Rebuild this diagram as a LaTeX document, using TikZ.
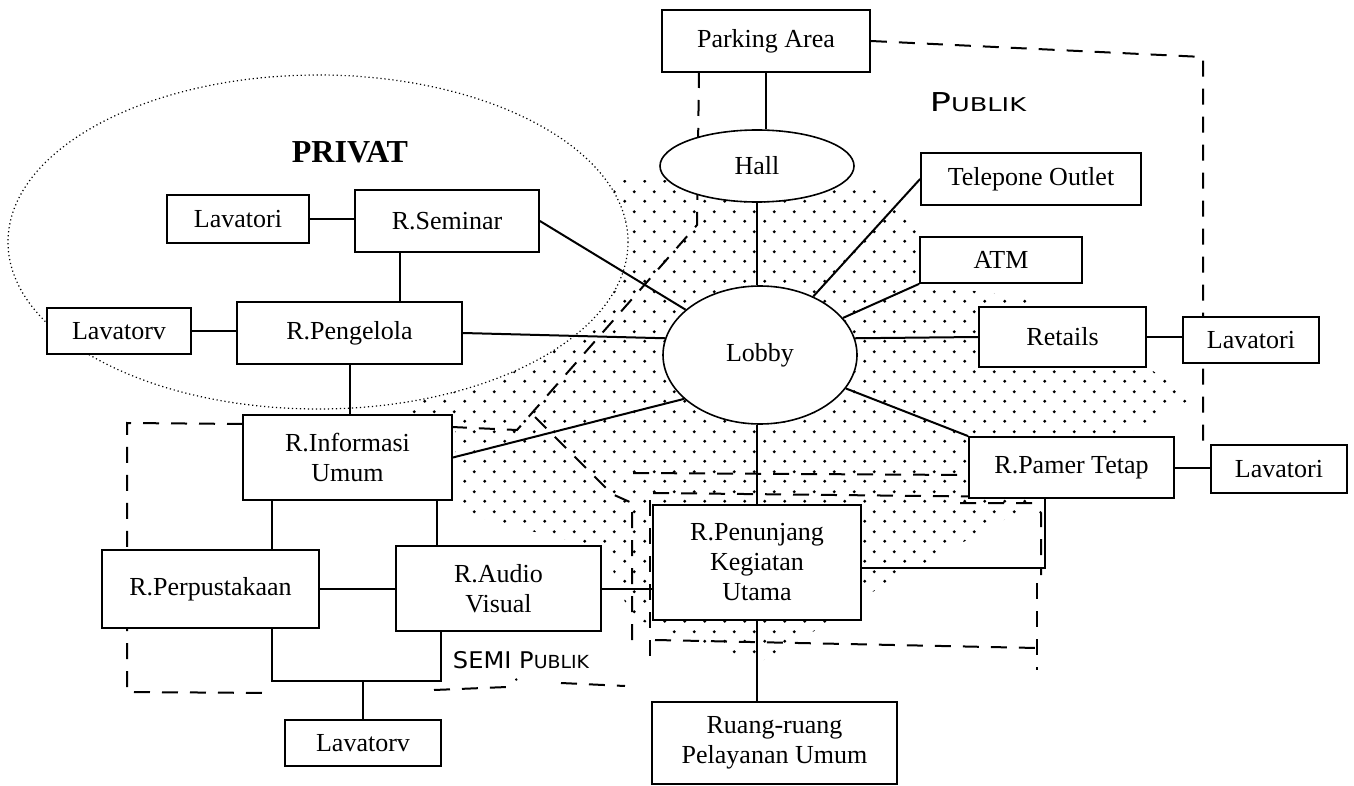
\documentclass[tikz,border=0pt]{standalone}
\usepackage{fontspec}
\setmainfont{Liberation Serif}
\newfontfamily\handfont{DejaVu Sans}
\usetikzlibrary{shapes.geometric,calc,patterns.meta}
\pgfdeclarelayer{bg}
\pgfdeclarelayer{mid}
\pgfsetlayers{bg,mid,main}

% fine staggered dot screen for the shared public area
\tikzdeclarepattern{
  name=stipple,
  type=uncolored,
  bounding box={(0pt,0pt) and (10pt,10pt)},
  tile size={(10pt,10pt)},
  code={
    \pgfpathcircle{\pgfqpoint{2.5pt}{2.5pt}}{0.85pt}
    \pgfpathcircle{\pgfqpoint{7.5pt}{7.5pt}}{0.85pt}
    \pgfusepath{fill}
  }
}

\tikzset{
  room/.style={draw, fill=white, line width=0.9pt, inner sep=1pt, align=center,
               font=\fontsize{13}{15}\selectfont},
  hub/.style={room, ellipse, line width=0.8pt},
  link/.style={line width=1pt},
  zone/.style={line width=1pt, dash pattern=on 8pt off 6pt},
  label/.style={inner sep=0pt},
}

\begin{document}
\begin{tikzpicture}[x=0.5pt,y=-0.5pt]
\useasboundingbox (0,0) rectangle (1354,786);

% ---------- rooms ----------
\node[room, minimum width=104pt, minimum height=31pt] (park) at (766,41) {Parking Area};
\node[hub, minimum width=97pt, minimum height=36pt] (hall) at (757,166) {Hall};
\node[room, minimum width=110pt, minimum height=26pt] (tel) at (1031,179) {Telepone Outlet};
\node[room, minimum width=81pt, minimum height=23pt] (atm) at (1001,260) {ATM};
\node[hub, minimum width=97pt, minimum height=69pt] (lobby) at (760,355) {Lobby};
\node[room, minimum width=83.5pt, minimum height=30pt] (ret) at (1062.5,337) {Retails};
\node[room, minimum width=68pt, minimum height=23pt] (lav3) at (1251,340) {Lavatori};
\node[room, minimum width=102.5pt, minimum height=30.5pt] (pam) at (1071.5,467.5) {R.Pamer Tetap};
\node[room, minimum width=68pt, minimum height=24pt] (lav4) at (1279,469) {Lavatori};
\node[room, minimum width=92pt, minimum height=31pt] (sem) at (447,221) {R.Seminar};
\node[room, minimum width=71pt, minimum height=24pt] (lav1) at (238,219) {Lavatori};
\node[room, minimum width=112.5pt, minimum height=31pt] (peng) at (349.5,333) {R.Pengelola};
\node[room, minimum width=72pt, minimum height=23pt] (lav2) at (119,331) {Lavatorv};
\node[room, minimum width=104.5pt, minimum height=42.5pt] (info) at (347.5,457.5) {R.Informasi\\Umum};
\node[room, minimum width=108.5pt, minimum height=39pt] (pus) at (210.5,589) {R.Perpustakaan};
\node[room, minimum width=102.5pt, minimum height=42.5pt] (av) at (498.5,588.5) {R.Audio\\Visual};
\node[room, minimum width=78pt, minimum height=23pt] (lav5) at (363,743) {Lavatorv};
\node[room, minimum width=104pt, minimum height=57.5pt] (pen) at (757,562.5) {R.Penunjang\\Kegiatan\\Utama};
\node[room, minimum width=122.5pt, minimum height=41pt] (ruang) at (774.5,743) {Ruang-ruang\\Pelayanan Umum};

% ---------- zone labels ----------
\node[label, font=\bfseries\fontsize{16}{16}\selectfont] (privat) at (350,152) {PRIVAT};
\node[label] (publik) at (978,102) {\scalebox{1.35}[1]{\handfont\fontsize{13}{13}\selectfont P\fontsize{9.5}{9.5}\selectfont UBLIK}};
\node[label] (semi) at (521,660) {\scalebox{1.05}[1]{\handfont\fontsize{11.5}{12}\selectfont SEMI P\fontsize{9}{9}\selectfont UBLIK}};

% ---------- stippled public core and private zone ----------
\begin{pgfonlayer}{bg}
  \fill[pattern={stipple}, pattern color=black]
    (396,398) -- (600,180) -- (700,180) -- (880,188) -- (920,235) -- (925,285)
    -- (1035,298) -- (1148,368) -- (1195,397) -- (1130,432) -- (1040,500)
    -- (867,595) -- (830,622) -- (760,662) -- (700,645) -- (650,625)
    -- (630,615) -- (605,550) -- (457,512) -- (455,417) -- (396,414) -- cycle;
  \draw[fill=white, line width=0.6pt, dash pattern=on 0.6pt off 1.4pt]
    (318,242) ellipse [x radius=310, y radius=167];
\end{pgfonlayer}

\begin{pgfonlayer}{mid}
  % zone boundaries
  \draw[zone] (park.east) -- (1203,57) -- (1203,450);
  \draw[zone] (699,72) -- (697,225) -- (517,430) -- (452,427);
  \draw[zone] (243,424) -- (127,423) -- (127,692) -- (270,693);
  \draw[zone] (434,690) -- (507,687) -- (517,679);
  \draw[zone] (561,683) -- (625,686);
  \draw[zone] (535,417) -- (612,494) -- (632,503) -- (632,652);
  \draw[zone] (650,500) -- (650,658);
  \draw[zone] (633,473) -- (967,475);
  \draw[zone] (653,493) -- (1017,497);
  \draw[zone] (960,503) -- (1033,503) -- (1041,513) -- (1041,575);
  \draw[zone] (1037,583) -- (1037,670);
  \draw[zone] (655,640) -- (1037,648);

  % room relations
  \draw[link] (park.south) -- (park.south |- hall.north);
  \draw[link] (hall.south) -- (hall.south |- lobby.north);
  \draw[link] (tel.west) -- (lobby);
  \draw[link] (atm.south west) -- (lobby);
  \draw[link] (ret.west) -- (lobby.10);
  \draw[link] (pam.north west) -- (lobby);
  \draw[link] (ret.east) -- (ret.east -| lav3.west);
  \draw[link] (pam.east) -- (pam.east -| lav4.west);
  \draw[link] (sem.east) -- (lobby);
  \draw[link] (lav1.east) -- (lav1.east -| sem.west);
  \coordinate (sp) at ($(sem.south west)!0.245!(sem.south east)$);
  \draw[link] (sp) -- (sp |- peng.north);
  \draw[link] (lav2.east) -- (lav2.east -| peng.west);
  \draw[link] (peng.east) -- (lobby.170);
  \draw[link] (peng.south) -- (peng.south |- info.north);
  \draw[link] (info.east) -- (lobby.210);
  \coordinate (ip) at ($(info.south west)!0.144!(info.south east)$);
  \draw[link] (ip) -- (ip |- pus.north);
  \coordinate (ia) at ($(info.south west)!0.923!(info.south east)$);
  \draw[link] (ia) -- (ia |- av.north);
  \draw[link] (pus.east) -- (pus.east -| av.west);
  \coordinate (bl) at ($(pus.south west)!0.779!(pus.south east)$);
  \coordinate (br) at ($(av.south west)!0.224!(av.south east)$);
  \coordinate (bj) at (363,681);
  \draw[link] (bl) |- (bj) -| (br);
  \draw[link] (bj) -- (lav5.north);
  \draw[link] (av.east) -- (av.east -| pen.west);
  \draw[link] (pen.north) -- (pen.north |- lobby.south);
  \draw[link] (pen.south) -- (pen.south |- ruang.north);
  \coordinate (pk) at ($(pam.south west)!0.371!(pam.south east)$);
  \draw[link] (pen.-3) -| (pk);
\end{pgfonlayer}
\end{tikzpicture}
\end{document}
